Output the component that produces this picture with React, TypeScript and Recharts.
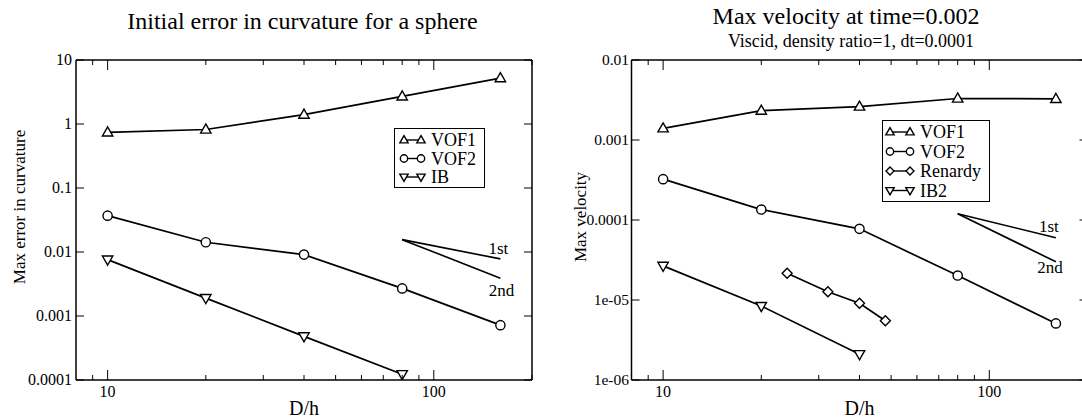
import { LineChart, Line, XAxis, YAxis, Legend } from "recharts";

const SERIF = "'Liberation Serif', 'Times New Roman', Times, serif";

// grid resolutions D/h
const dh = [10, 20, 40, 80, 160];
const renardyDh = [24, 32, 40, 48];
const slopeDh = [80, 160];

// left panel: initial error in curvature
const curvVof1 = [0.74, 0.82, 1.4, 2.7, 5.2];
const curvVof2 = [0.037, 0.0142, 0.0091, 0.0027, 0.00072];
const curvIb = [0.0076, 0.0019, 0.00048, 0.000123];
const curvFirst = [0.0156, 0.0078];
const curvSecond = [0.0156, 0.0039];

// right panel: max velocity at t=0.002
const velVof1 = [0.0014, 0.00233, 0.00262, 0.0033, 0.00327];
const velVof2 = [0.000324, 0.000135, 0.0000775, 0.0000202, 0.0000051];
const velRenardy = [0.0000216, 0.0000127, 0.0000091, 0.0000055];
const velIb2 = [0.0000267, 0.0000084, 0.0000021];
const velFirst = [0.00012, 0.00006];
const velSecond = [0.00012, 0.00003];

const xTicks = [9, 10, 20, 30, 40, 50, 60, 70, 80, 90, 100, 200];
const xMajor = [10, 100];
const curvTicks = [0.0001, 0.001, 0.01, 0.1, 1, 10];
const curvTickLabels = ["0.0001", "0.001", "0.01", "0.1", "1", "10"];
const velTicks = [0.000001, 0.00001, 0.0001, 0.001, 0.01];
const velTickLabels = ["1e-06", "1e-05", "0.0001", "0.001", "0.01"];

type Shape = "up" | "down" | "circle" | "diamond";
type Pt = { x: number; y: number };

const pts = (xs: number[], ys: number[]): Pt[] =>
  ys.map((y, i) => ({ x: xs[i], y }));

function Marker({ shape, cx, cy, s = 1 }: { shape: Shape; cx: number; cy: number; s?: number }) {
  const st = { fill: "#fff", stroke: "#000", strokeWidth: 1.4 };
  if (shape === "circle") return <circle cx={cx} cy={cy} r={4.6 * s} {...st} />;
  if (shape === "diamond") {
    const d = 5 * s;
    return (
      <polygon
        points={`${cx},${cy - d} ${cx + d},${cy} ${cx},${cy + d} ${cx - d},${cy}`}
        {...st}
      />
    );
  }
  const h = shape === "up" ? -1 : 1;
  return (
    <polygon
      points={`${cx},${cy + 5.5 * h * s} ${cx - 5.2 * s},${cy - 3.6 * h * s} ${cx + 5.2 * s},${cy - 3.6 * h * s}`}
      {...st}
    />
  );
}

const dotOf = (shape: Shape) => (p: any) => {
  if (p.cx == null || p.cy == null) return <g key={`e${p.index}`} />;
  return <Marker key={`m${p.index}`} shape={shape} cx={p.cx} cy={p.cy} />;
};

const slopeDot = (text: string, dx: number, dy: number) => (p: any) =>
  p.index === 1 ? (
    <text
      key={`t${text}`}
      x={p.cx + dx}
      y={p.cy + dy}
      textAnchor="middle"
      fontSize={17}
      fontFamily={SERIF}
      fill="#000"
    >
      {text}
    </text>
  ) : (
    <g key={`t${text}${p.index}`} />
  );

function BottomTick(p: any) {
  const major = xMajor.includes(p.payload.value);
  return (
    <g>
      <line x1={p.x} x2={p.x} y1={p.y} y2={p.y - (major ? 10 : 5)} stroke="#000" />
      {major && (
        <text x={p.x} y={p.y + 17} textAnchor="middle" fontSize={16} fontFamily={SERIF} fill="#000">
          {p.payload.value}
        </text>
      )}
    </g>
  );
}

function TopTick(p: any) {
  const major = xMajor.includes(p.payload.value);
  return <line x1={p.x} x2={p.x} y1={p.y} y2={p.y + (major ? 10 : 5)} stroke="#000" />;
}

const leftTick = (ticks: number[], labels: string[], size: number, gap: number) => (p: any) => (
  <g>
    <line x1={p.x} x2={p.x + 8} y1={p.y} y2={p.y} stroke="#000" />
    <text x={p.x - gap} y={p.y} dy="0.33em" textAnchor="end" fontSize={size} fontFamily={SERIF} fill="#000">
      {labels[ticks.indexOf(p.payload.value)]}
    </text>
  </g>
);

function RightTick(p: any) {
  return <line x1={p.x} x2={p.x - 8} y1={p.y} y2={p.y} stroke="#000" />;
}

type Entry = { name: string; shape: Shape };

function LegendBox({ items, w, h, top, gap, s1, s2, tx }: any) {
  return (
    <svg width={w} height={h} style={{ display: "block" }}>
      <rect x={0.5} y={0.5} width={w - 1} height={h - 1} fill="#fff" stroke="#000" />
      {items.map((it: Entry, i: number) => {
        const y = top + i * gap;
        return (
          <g key={it.name}>
            <line x1={s1} x2={s2} y1={y} y2={y} stroke="#000" strokeWidth={1.4} />
            <Marker shape={it.shape} cx={s1} cy={y} s={0.8} />
            <Marker shape={it.shape} cx={s2} cy={y} s={0.8} />
            <text x={tx} y={y} dy="0.34em" fontSize={18} fontFamily={SERIF} fill="#000">
              {it.name}
            </text>
          </g>
        );
      })}
    </svg>
  );
}

const axisLine = { stroke: "#000", strokeWidth: 1.5 };

function LogPanel(props: any) {
  const {
    width, left, right, yDomain, yTicks, yLabels, tickSize, tickGap, yTitle, yTitleDx, yTitleDy,
    series, first, second, labelOff, legend,
  } = props;
  return (
    <LineChart width={width} height={418} margin={{ top: 50, right, bottom: 8, left }}>
      <XAxis
        xAxisId="b" dataKey="x" type="number" scale="log" domain={[8, 200]} allowDataOverflow
        ticks={xTicks} interval={0} height={30} tickSize={0} tickMargin={0}
        tick={BottomTick} tickLine={false} axisLine={axisLine}
        label={(lp: any) => (
          <text
            x={lp.viewBox.x + lp.viewBox.width / 2} y={lp.viewBox.y + 34.5}
            textAnchor="middle" fontSize={20} fontFamily={SERIF} fill="#000"
          >
            D/h
          </text>
        )}
      />
      <XAxis
        xAxisId="t" orientation="top" dataKey="x" type="number" scale="log" domain={[8, 200]}
        allowDataOverflow ticks={xTicks} interval={0} height={10} tickSize={0} tickMargin={0}
        tick={TopTick} tickLine={false} axisLine={axisLine}
      />
      <YAxis
        yAxisId="l" dataKey="y" type="number" scale="log" domain={yDomain} allowDataOverflow
        ticks={yTicks} interval={0} width={70} tickSize={0} tickMargin={0}
        tick={leftTick(yTicks, yLabels, tickSize, tickGap)} tickLine={false} axisLine={axisLine}
        label={(lp: any) => {
          const x = lp.viewBox.x + lp.viewBox.width + yTitleDx;
          const y = lp.viewBox.y + lp.viewBox.height / 2 + yTitleDy;
          return (
            <text
              x={x} y={y} transform={`rotate(-90 ${x} ${y})`} textAnchor="middle"
              fontSize={17} fontFamily={SERIF} fill="#000"
            >
              {yTitle}
            </text>
          );
        }}
      />
      <YAxis
        yAxisId="r" orientation="right" dataKey="y" type="number" scale="log" domain={yDomain}
        allowDataOverflow ticks={yTicks} interval={0} width={10} tickSize={0} tickMargin={0}
        tick={RightTick} tickLine={false} axisLine={axisLine}
      />
      <Line
        xAxisId="b" yAxisId="l" data={pts(slopeDh, first)} dataKey="y" stroke="#000"
        strokeWidth={1.6} dot={slopeDot("1st", labelOff[0], labelOff[1])} isAnimationActive={false}
      />
      <Line
        xAxisId="b" yAxisId="l" data={pts(slopeDh, second)} dataKey="y" stroke="#000"
        strokeWidth={1.6} dot={slopeDot("2nd", labelOff[2], labelOff[3])} isAnimationActive={false}
      />
      {series.map((s: any) => (
        <Line
          key={s.name} xAxisId="b" yAxisId="l" data={s.data} dataKey="y" name={s.name}
          stroke="#000" strokeWidth={1.7} dot={dotOf(s.shape)} isAnimationActive={false}
        />
      ))}
      <Legend
        layout="vertical" align="center" verticalAlign="middle"
        wrapperStyle={{ left: legend.x, top: legend.y, width: legend.w, height: legend.h }}
        content={() => (
          <LegendBox
            items={series} w={legend.w} h={legend.h} top={legend.top} gap={legend.gap}
            s1={legend.s1} s2={legend.s2} tx={legend.tx}
          />
        )}
      />
    </LineChart>
  );
}

export default function App() {
  const curvSeries = [
    { name: "VOF1", shape: "up", data: pts(dh, curvVof1) },
    { name: "VOF2", shape: "circle", data: pts(dh, curvVof2) },
    { name: "IB", shape: "down", data: pts(dh, curvIb) },
  ];
  const velSeries = [
    { name: "VOF1", shape: "up", data: pts(dh, velVof1) },
    { name: "VOF2", shape: "circle", data: pts(dh, velVof2) },
    { name: "Renardy", shape: "diamond", data: pts(renardyDh, velRenardy) },
    { name: "IB2", shape: "down", data: pts(dh, velIb2) },
  ];
  return (
    <div
      style={{
        position: "fixed", left: 0, top: 0, width: 1082, height: 418,
        overflow: "hidden", background: "#fff", fontFamily: SERIF,
      }}
    >
      <div style={{ position: "absolute", left: 0, top: 0 }}>
        <LogPanel
          width={545} left={6} right={3}
          yDomain={[0.0001, 10]} yTicks={curvTicks} yLabels={curvTickLabels}
          tickSize={16} tickGap={4}
          yTitle="Max error in curvature" yTitleDx={-51} yTitleDy={-13}
          series={curvSeries} first={curvFirst} second={curvSecond}
          labelOff={[-2, -4.5, 1, 18]}
          legend={{ x: 394, y: 128, w: 91, h: 60, top: 12, gap: 18.5, s1: 10, s2: 27, tx: 37 }}
        />
      </div>
      <div style={{ position: "absolute", left: 545, top: 0 }}>
        <LogPanel
          width={560} left={16.5} right={7.5}
          yDomain={[0.000001, 0.01]} yTicks={velTicks} yLabels={velTickLabels}
          tickSize={15.5} tickGap={2.5}
          yTitle="Max velocity" yTitleDx={-46} yTitleDy={-3}
          series={velSeries} first={velFirst} second={velSecond}
          labelOff={[-7, -6, -6, 11.5]}
          legend={{ x: 337, y: 120, w: 108, h: 82, top: 12, gap: 19.5, s1: 8, s2: 28, tx: 38 }}
        />
      </div>
      <svg
        width={1082} height={418}
        style={{ position: "absolute", left: 0, top: 0, pointerEvents: "none" }}
      >
        <text x={302.5} y={29} textAnchor="middle" fontSize={24} fontFamily={SERIF} fill="#000">
          Initial error in curvature for a sphere
        </text>
        <text x={846} y={24} textAnchor="middle" fontSize={24} fontFamily={SERIF} fill="#000">
          Max velocity at time=0.002
        </text>
        <text x={851} y={47} textAnchor="middle" fontSize={18} fontFamily={SERIF} fill="#000">
          Viscid, density ratio=1, dt=0.0001
        </text>
      </svg>
    </div>
  );
}
